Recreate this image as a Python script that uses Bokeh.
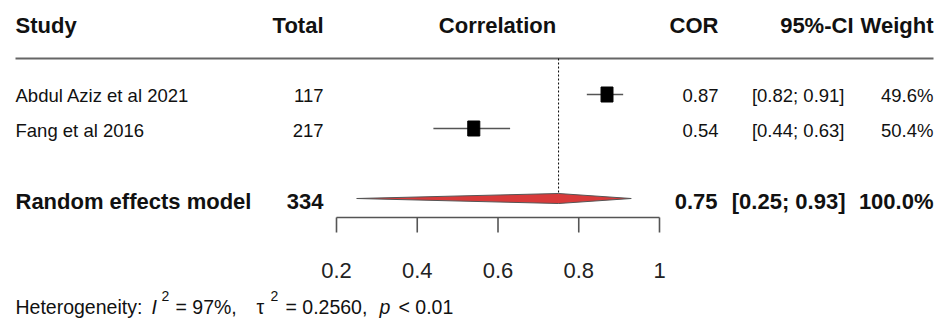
from bokeh.plotting import figure
from bokeh.models import Range1d, Label
from bokeh.embed import file_html
from bokeh.resources import INLINE

# ---------------- data ----------------
studies = ["Abdul Aziz et al 2021", "Fang et al 2016"]
totals = [117, 217]
cor = [0.87, 0.54]
ci_low = [0.82, 0.44]
ci_high = [0.91, 0.63]
weights = [49.6, 50.4]

pooled_label = "Random effects model"
pooled_total = 334
pooled_cor = 0.75
pooled_low = 0.25
pooled_high = 0.93
pooled_weight = 100.0

headers = ["Study", "Total", "Correlation", "COR", "95%-CI", "Weight"]
ticks = [0.2, 0.4, 0.6, 0.8, 1.0]
tick_labels = ["0.2", "0.4", "0.6", "0.8", "1"]
het_i2 = "97%"
het_tau2 = "0.2560"
het_p = "< 0.01"

# ---------------- layout ----------------
W, H = 937, 323
px_per_unit = 403.75            # 0.2 -> 336 px, 1.0 -> 659 px
x0 = 0.2 - 336 / px_per_unit
x1 = x0 + W / px_per_unit

FONT = "Liberation Sans"
INK = "#111111"
GREY = "#555555"

p = figure(width=W, height=H, x_range=Range1d(x0, x1), y_range=Range1d(H, 0),
           output_backend="svg", toolbar_location=None, min_border=0,
           background_fill_color="white", border_fill_color="white")
p.axis.visible = False
p.grid.visible = False
p.outline_line_color = None


def lab(text, x, y, align="left", size=18, bold=False, italic=False, color=INK):
    style = "normal"
    if bold and italic:
        style = "bold italic"
    elif bold:
        style = "bold"
    elif italic:
        style = "italic"
    p.add_layout(Label(x=x, y=y, x_units="screen", y_units="data", text=text,
                       text_align=align, text_baseline="middle",
                       text_font=FONT, text_font_size=f"{size}px",
                       text_font_style=style, text_color=color))


# header
hc = 25
lab(headers[0], 15, hc, "left", 22, True)
lab(headers[1], 323, hc, "right", 22, True)
lab(headers[2], 497, hc, "center", 22, True)
lab(headers[3], 718, hc, "right", 22, True)
lab(headers[4], 853, hc, "right", 22, True)
lab(headers[5], 933, hc, "right", 22, True)

# header rule
p.segment(x0=[x0 + 15 / px_per_unit], x1=[x0 + 933 / px_per_unit], y0=[58], y1=[58],
          line_color="#666666", line_width=2)

# study rows
row_text = [95, 130]
row_mark = [94, 128]
for i, s in enumerate(studies):
    c = row_text[i]
    lab(s, 15, c, "left", 18.5)
    lab(str(totals[i]), 323, c, "right", 18.5)
    lab(f"{cor[i]:.2f}", 718, c, "right", 18.5)
    lab(f"[{ci_low[i]:.2f}; {ci_high[i]:.2f}]", 844, c, "right", 18.5)
    lab(f"{weights[i]:.1f}%", 933, c, "right", 18.5)

# reference (pooled) dotted line
p.segment(x0=[pooled_cor], x1=[pooled_cor], y0=[58], y1=[193],
          line_color="black", line_width=1, line_dash="2 2")

# CI lines and squares
p.segment(x0=ci_low, x1=ci_high, y0=row_mark, y1=row_mark,
          line_color=GREY, line_width=1.6)
sq_w = [12 * (w / 50) ** 0.5 for w in weights]
p.rect(x=cor, y=row_mark, width=sq_w, height=[15, 15],
       width_units="screen", height_units="screen",
       fill_color="black", line_color="black")

# pooled row
pc = 201
lab(pooled_label, 15, pc, "left", 22, True)
lab(str(pooled_total), 323, pc, "right", 22, True)
lab(f"{pooled_cor:.2f}", 717, pc, "right", 22, True)
lab(f"[{pooled_low:.2f}; {pooled_high:.2f}]", 845, pc, "right", 22, True)
lab(f"{pooled_weight:.1f}%", 933, pc, "right", 22, True)

dy = 198
p.patch(x=[pooled_low, pooled_cor, pooled_high, pooled_cor],
        y=[dy, dy - 5, dy, dy + 5],
        fill_color="#D83A3A", line_color=GREY, line_width=1)

# axis
ay = 217
p.segment(x0=[ticks[0]], x1=[ticks[-1]], y0=[ay], y1=[ay], line_color=GREY, line_width=1.6)
p.segment(x0=ticks, x1=ticks, y0=[ay] * len(ticks), y1=[ay + 15] * len(ticks),
          line_color=GREY, line_width=1.6)
p.text(x=ticks, y=[270] * len(ticks), text=tick_labels,
       text_align="center", text_baseline="middle",
       text_font={"value": FONT}, text_font_size="22px", text_color="#222222")

# heterogeneity line
hy = 306
lab("Heterogeneity:", 15, hy, "left", 19.5)
lab("I", 151, hy, "left", 19.5, italic=True)
lab("2", 161, 295, "left", 14)
lab(f"= {het_i2},", 175, hy, "left", 19.5)
lab("\u03c4", 256, hy, "left", 19.5)
lab("2", 270, 295, "left", 14)
lab(f"= {het_tau2},", 285, hy, "left", 19.5)
lab("p", 379, hy, "left", 19.5, italic=True)
lab(het_p, 398, hy, "left", 19.5)

open("out.html", "w").write(file_html(p, INLINE))
